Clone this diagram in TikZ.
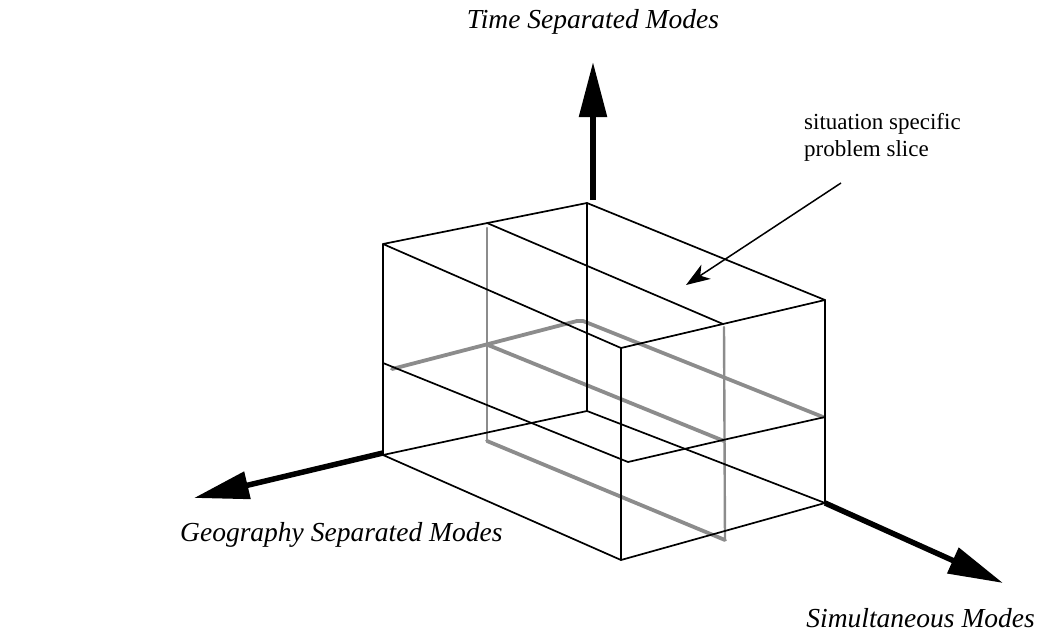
\documentclass[tikz,border=0pt]{standalone}
\usepackage{fontspec}
\setmainfont{Liberation Serif}
\usetikzlibrary{arrows.meta}
\begin{document}
\begin{tikzpicture}[x=1pt,y=-1pt,
  edge/.style={line width=1.7pt,line cap=round,line join=round},
  sliceedge/.style={line width=3.8pt,draw=black!45,line cap=round,line join=round},
  slicewall/.style={line width=2.4pt,draw=black!45,line cap=round},
  axis/.style={line width=5.5pt,-{Triangle[length=55pt,width=27pt]}},
  pointer/.style={line width=1.5pt,-{Stealth[length=24pt,width=17pt,inset=7pt]}},
  axislabel/.style={font=\fontsize{27.5}{33}\selectfont\itshape,inner sep=0pt},
  notelabel/.style={font=\fontsize{23}{27}\selectfont,inner sep=0pt,align=left}]
\useasboundingbox (0,0) rectangle (1037,634);

% box corners: top face and bottom face
\coordinate (A)  at (587,203);
\coordinate (B)  at (383,244);
\coordinate (C)  at (825,300);
\coordinate (D)  at (621,348);
\coordinate (A1) at (587,411);
\coordinate (B1) at (383,455);
\coordinate (C1) at (825,503);
\coordinate (D1) at (621,560);
% mid-height level
\coordinate (Bm) at (383,363);
\coordinate (Dm) at (628,462);
\coordinate (Em) at (723,440);
\coordinate (Cm) at (825,417);
% vertical slice
\coordinate (S1) at (487,223);
\coordinate (S2) at (723,324);
\coordinate (V1) at (487,228);
\coordinate (V2) at (487,441);
\coordinate (W1) at (724,327);
\coordinate (W2) at (725,540);
% horizontal slice
\coordinate (G1) at (392,369);
\coordinate (G2) at (577,321);
\coordinate (G3) at (583,321);
\coordinate (G4) at (823,417);
\coordinate (H1) at (488,345);
\coordinate (H2) at (724,441);

% gray slice
\draw[slicewall] (V1) -- (V2);
\draw[slicewall] (W1) -- (W2);
\draw[sliceedge] (V2) -- (W2);
\draw[sliceedge] (G1) -- (G2) -- (G3) -- (G4);
\draw[sliceedge] (H1) -- (H2);

% box wireframe
\draw[edge] (B) -- (A) -- (C) -- (D) -- cycle;
\draw[edge] (B1) -- (A1) -- (C1) -- (D1) -- cycle;
\draw[edge] (A) -- (A1);
\draw[edge] (B) -- (B1);
\draw[edge] (C) -- (C1);
\draw[edge] (D) -- (D1);
\draw[edge] (S1) -- (S2);
\draw[edge] (Bm) -- (Dm) -- (Em) -- (Cm);

% axes
\coordinate (T0) at (593,200);
\coordinate (T1) at (593,62);
\coordinate (Gx0) at (383,453);
\coordinate (Gx1) at (194,498);
\coordinate (Sx0) at (825,503);
\coordinate (Sx1) at (1003,583);
\draw[axis] (T0) -- (T1);
\draw[axis] (Gx0) -- (Gx1);
\draw[axis] (Sx0) -- (Sx1);

% labels
\node[axislabel,anchor=base] (tlab) at (593,29) {Time Separated Modes};
\node[axislabel,anchor=base west] (glab) at (180,541) {Geography Separated Modes};
\node[axislabel,anchor=base east] (slab) at (1035,627) {Simultaneous Modes};
\node[notelabel,anchor=base west] (note) at (804,156) {situation specific\\problem slice};

% pointer to the slice
\coordinate (P0) at (841,183);
\coordinate (P1) at (686,285);
\draw[pointer] (P0) -- (P1);
\end{tikzpicture}
\end{document}
